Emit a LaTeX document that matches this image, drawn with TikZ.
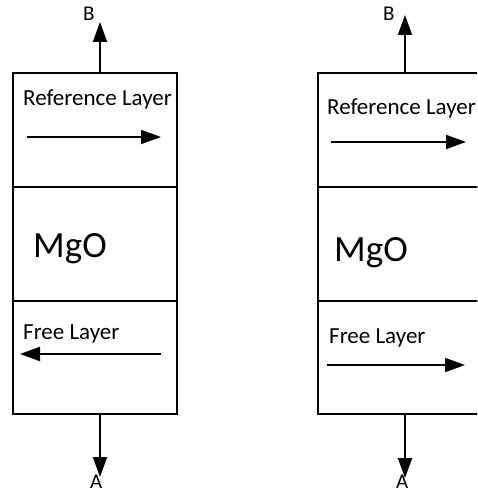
\documentclass[tikz,border=0pt]{standalone}
\usepackage{fontspec}
\setmainfont{Carlito}
\usetikzlibrary{arrows.meta}
\begin{document}
\begin{tikzpicture}[x=1pt,y=-1pt,
  layerbox/.style={draw=black, line width=2.2pt, inner sep=0pt, minimum width=164pt},
  conn/.style={draw=black, line width=2pt, -{Triangle[length=20pt,width=14pt]}},
  lbl/.style={anchor=base west, inner sep=0pt, font=\fontsize{23}{27}\selectfont},
  bigl/.style={anchor=base west, inner sep=0pt, font=\fontsize{37}{42}\selectfont},
  term/.style={anchor=base west, inner sep=0pt, font=\fontsize{21}{25}\selectfont}]
\useasboundingbox (0,0) rectangle (477,494);
\clip (0,0) rectangle (477,494);
% left stack
\node[layerbox, minimum height=114pt] (lref) at (95,130) {};
\node[layerbox, minimum height=114pt] (lmgo) at (95,244) {};
\node[layerbox, minimum height=113pt] (lfree) at (95,357.5) {};
% right stack
\node[layerbox, minimum height=114pt] (rref) at (400,130) {};
\node[layerbox, minimum height=114pt] (rmgo) at (400,244) {};
\node[layerbox, minimum height=113pt] (rfree) at (400,357.5) {};
% texts
\node[lbl] (lreft) at (23,106) {Reference Layer};
\node[bigl] (lmgot) at (33,257) {MgO};
\node[lbl] (lfreet) at (23,339) {Free Layer};
\node[lbl] (rreft) at (327,115) {Reference Layer};
\node[bigl] (rmgot) at (334,261) {MgO};
\node[lbl] (rfreet) at (329,343) {Free Layer};
\node[term] (lB) at (83,21) {B};
\node[term] (lA) at (90,488) {A};
\node[term] (rB) at (383,21) {B};
\node[term] (rA) at (396,488) {A};
% terminal coordinates
\coordinate (lbs) at (100,73);
\coordinate (lbt) at (100,22);
\coordinate (las) at (100,414);
\coordinate (lat) at (100,477);
\coordinate (rbs) at (405,73);
\coordinate (rbt) at (405,15);
\coordinate (ras) at (405,414);
\coordinate (rat) at (405,478);
\draw[conn] (lbs) -- (lbt);
\draw[conn] (las) -- (lat);
\draw[conn] (rbs) -- (rbt);
\draw[conn] (ras) -- (rat);
% magnetisation arrows
\coordinate (lr1) at (27,137);
\coordinate (lr2) at (161,137);
\coordinate (lf1) at (161,354);
\coordinate (lf2) at (20,354);
\coordinate (rr1) at (331,142);
\coordinate (rr2) at (466,142);
\coordinate (rf1) at (327,365);
\coordinate (rf2) at (465,365);
\draw[conn] (lr1) -- (lr2);
\draw[conn] (lf1) -- (lf2);
\draw[conn] (rr1) -- (rr2);
\draw[conn] (rf1) -- (rf2);
\end{tikzpicture}
\end{document}
